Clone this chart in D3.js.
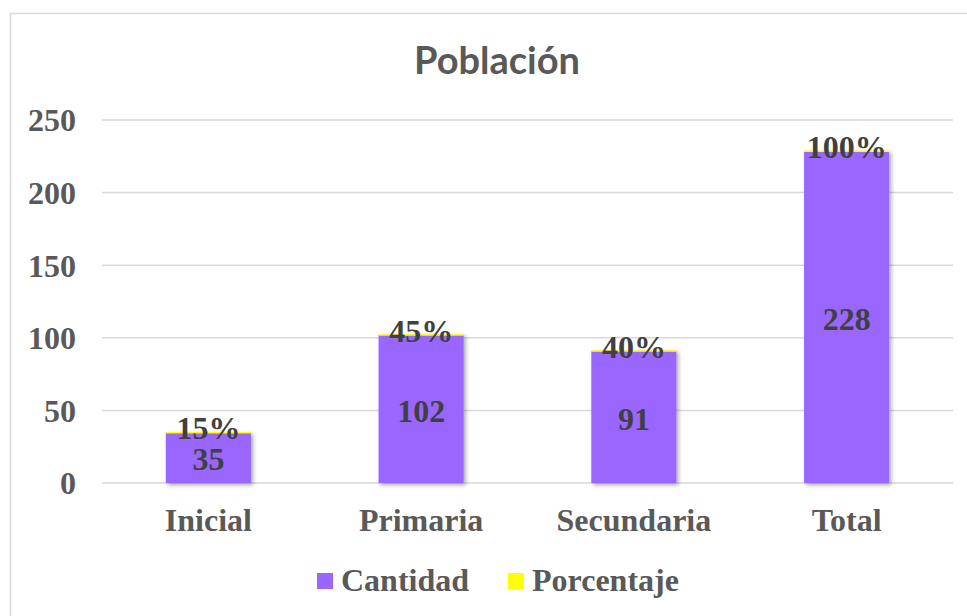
<!DOCTYPE html>
<html><head><meta charset="utf-8">
<script src="https://cdn.jsdelivr.net/npm/d3@7"></script>
<style>html,body{margin:0;padding:0;background:#fff;}svg{display:block;}</style>
</head><body>
<svg id="chart" width="967" height="616"></svg>
<script>
const categories = ["Inicial", "Primaria", "Secundaria", "Total"];
const cantidad = [35, 102, 91, 228];
const porcentaje = [0.15, 0.45, 0.40, 1.00];
const porcentajeLabels = ["15%", "45%", "40%", "100%"];
const yTicks = [0, 50, 100, 150, 200, 250];
const seriesNames = ["Cantidad", "Porcentaje"];
const seriesColors = ["#9966FF", "#FFFF00"];

(function(){
const svg = d3.select("#chart");
const defs = svg.append("defs");
const f = defs.append("filter").attr("id","sh").attr("x","-20%").attr("y","-20%").attr("width","150%").attr("height","150%");
f.append("feDropShadow").attr("dx",2).attr("dy",2).attr("stdDeviation",2).attr("flood-color","#000").attr("flood-opacity",0.35);

svg.append("rect").attr("x",10.5).attr("y",13.5).attr("width",1000).attr("height",700)
  .attr("fill","#fff").attr("stroke","#d9d9d9").attr("stroke-width",1.5);

const pLeft = 102, pRight = 953, pTop = 120, pBottom = 483;
const x = d3.scaleBand().domain(categories).range([pLeft, pRight]).paddingInner(0.6).paddingOuter(0.3);
const y = d3.scaleLinear().domain([0, 250]).range([pBottom, pTop]);

svg.append("text").attr("x", 497).attr("y", 74).attr("text-anchor","middle")
  .attr("font-family","Lato, 'Open Sans', sans-serif").attr("font-weight","bold")
  .attr("font-size", 38).attr("fill","#595959").text("Población");

const serif = "'Liberation Serif', 'Times New Roman', serif";
const fs = 32;
svg.append("g").selectAll("line").data(yTicks).join("line")
  .attr("x1", pLeft).attr("x2", pRight).attr("y1", d=>y(d)).attr("y2", d=>y(d))
  .attr("stroke","#d9d9d9").attr("stroke-width",1.5);

const yAxis = d3.axisLeft(y).tickValues(yTicks).tickSize(0).tickPadding(0);
const gy = svg.append("g").attr("transform",`translate(76,0)`).call(yAxis);
gy.select(".domain").remove();
gy.selectAll("text").attr("font-family",serif).attr("font-weight","bold").attr("font-size",fs)
  .attr("fill","#595959").attr("dy","0.34em");

const xAxis = d3.axisBottom(x).tickSize(0).tickPadding(0);
const gx = svg.append("g").attr("transform",`translate(0,${pBottom})`).call(xAxis);
gx.select(".domain").remove();
gx.selectAll("text").attr("font-family",serif).attr("font-weight","bold").attr("font-size",fs)
  .attr("fill","#595959").attr("y",48).attr("dy",0);

const data = categories.map((c,i)=>({cat:c, Cantidad:cantidad[i], Porcentaje:porcentaje[i]}));
const stack = d3.stack().keys(seriesNames)(data);
const gb = svg.append("g").attr("filter","url(#sh)");
stack.forEach((s,si)=>{
  gb.append("g").selectAll("rect").data(s).join("rect")
    .attr("x", d=>x(d.data.cat)).attr("width", x.bandwidth())
    .attr("y", d=>y(d[1])).attr("height", d=>Math.max(y(d[0])-y(d[1]), si===1?1.5:0))
    .attr("fill", seriesColors[si]);
});

svg.append("g").selectAll("text").data(stack[0]).join("text")
  .attr("x", d=>x(d.data.cat)+x.bandwidth()/2).attr("y", d=>y((d[0]+d[1])/2))
  .attr("dy","0.4em").attr("text-anchor","middle")
  .attr("font-family",serif).attr("font-weight","bold").attr("font-size",fs).attr("fill","#404040")
  .text((d,i)=>cantidad[i]);
svg.append("g").selectAll("text").data(stack[1]).join("text")
  .attr("x", d=>x(d.data.cat)+x.bandwidth()/2).attr("y", d=>y((d[0]+d[1])/2))
  .attr("dy","0.22em").attr("text-anchor","middle")
  .attr("font-family",serif).attr("font-weight","bold").attr("font-size",fs).attr("fill","#404040")
  .text((d,i)=>porcentajeLabels[i]);

const legendX = [317, 508];
const lg = svg.append("g");
seriesNames.forEach((n,i)=>{
  lg.append("rect").attr("x",legendX[i]).attr("y",573).attr("width",16).attr("height",16).attr("fill",seriesColors[i]);
  lg.append("text").attr("x",legendX[i]+24).attr("y",591)
    .attr("font-family",serif).attr("font-weight","bold").attr("font-size",fs).attr("fill","#595959").text(n);
});
})();
</script>
</body></html>
